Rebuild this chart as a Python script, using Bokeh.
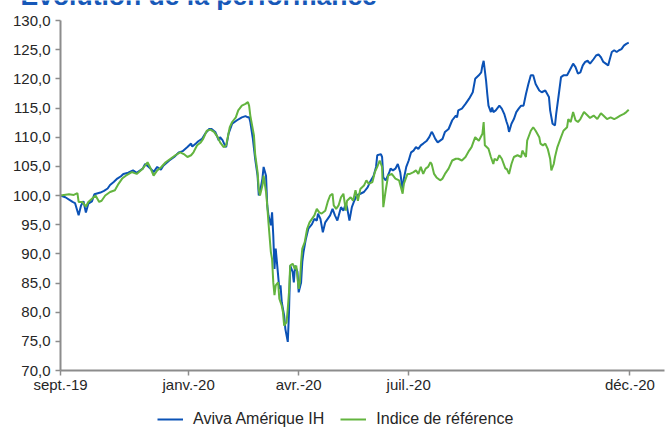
from bokeh.plotting import figure
from bokeh.models import Range1d, FixedTicker, Legend, LegendItem, Label
from bokeh.embed import file_html
from bokeh.resources import INLINE
from datetime import date

# ---- data ----
start_date = "2019-09-17"

aviva_days = [0, 4, 10, 12, 15, 17, 19, 21, 23, 26, 28, 33, 36, 39, 41, 44, 47, 50, 52, 56,
              60, 63, 68, 70, 73, 76, 77, 80, 83, 85, 90, 94, 98, 101, 105, 108, 109, 112, 114, 117,
              120, 123, 125, 128, 131, 132, 134, 136, 137, 139, 142, 146, 150, 153, 155, 156, 157, 159, 161, 163,
              164, 165, 167, 168, 170, 171, 172, 174, 175, 176, 177, 178, 180, 181, 182, 183, 185, 186, 188, 189,
              190, 192, 193, 194, 196, 197, 199, 200, 201, 203, 205, 208, 210, 212, 213, 215, 217, 219, 221, 223,
              225, 227, 229, 232, 234, 236, 237, 239, 241, 243, 245, 248, 251, 254, 256, 259, 261, 262, 265, 266,
              267, 269, 272, 273, 275, 277, 279, 281, 283, 284, 286, 288, 290, 292, 294, 296, 298, 300, 303, 305,
              307, 308, 310, 312, 314, 316, 318, 321, 324, 327, 328, 329, 332, 335, 338, 341, 343, 346, 348, 349,
              350, 352, 353, 354, 356, 357, 358, 360, 363, 365, 367, 369, 370, 371, 373, 375, 377, 379, 381, 383,
              385, 387, 389, 391, 393, 396, 398, 401, 404, 405, 407, 409, 410, 412, 414, 416, 419, 421, 424, 426,
              428, 430, 432, 434, 436, 438, 441, 443, 445, 447, 449, 451, 453, 454, 456, 458, 460, 462, 464, 466,
              468, 470]
aviva_vals = [100.0, 99.7, 98.9, 98.7, 96.6, 98.3, 99.0, 97.1, 98.6, 99.0, 100.2, 100.5, 100.8, 101.2, 101.8, 102.3, 102.9, 103.3, 103.7, 103.9,
              104.3, 103.9, 104.6, 105.4, 104.9, 104.3, 104.0, 104.9, 104.4, 105.1, 106.0, 106.6, 107.4, 107.6, 108.3, 108.9, 108.4, 108.9, 109.3, 109.7,
              110.7, 111.4, 111.4, 110.9, 109.4, 110.0, 109.5, 108.6, 108.3, 110.6, 112.3, 112.9, 113.4, 113.6, 113.4, 113.4, 112.6, 109.9, 106.3, 103.4,
              100.0, 100.6, 102.9, 104.9, 103.4, 98.3, 96.6, 94.9, 97.1, 93.1, 87.4, 90.9, 86.3, 84.0, 84.6, 81.7, 79.4, 77.1, 74.9, 80.0,
              88.0, 86.9, 85.1, 88.0, 86.9, 83.4, 85.1, 88.6, 90.3, 92.6, 94.3, 95.1, 96.0, 95.7, 96.9, 96.0, 93.7, 95.4, 96.0, 96.6,
              97.7, 96.6, 95.7, 98.0, 97.4, 98.6, 98.0, 95.7, 98.0, 99.1, 100.0, 100.3, 100.6, 101.4, 102.3, 103.4, 104.9, 106.9, 107.1, 106.6,
              103.1, 102.6, 104.0, 104.6, 104.3, 104.6, 105.4, 104.0, 100.9, 102.9, 104.9, 106.0, 107.4, 107.7, 108.3, 108.0, 108.6, 108.9, 109.4, 110.0,
              110.9, 110.6, 109.7, 109.1, 109.4, 109.7, 110.9, 111.4, 112.9, 113.7, 113.4, 114.6, 114.9, 115.7, 116.6, 117.7, 120.0, 120.6, 121.1, 122.3,
              123.1, 119.7, 117.4, 115.4, 114.3, 115.1, 114.3, 114.6, 115.4, 114.9, 114.0, 112.6, 112.0, 110.9, 112.3, 113.1, 114.3, 114.9, 115.4, 115.4,
              117.4, 119.1, 120.6, 120.6, 119.1, 118.0, 117.7, 118.0, 116.9, 114.6, 112.3, 112.0, 114.0, 117.1, 120.3, 120.6, 120.6, 121.4, 122.6, 122.0,
              120.9, 121.1, 122.3, 122.9, 123.1, 122.6, 123.4, 124.0, 124.2, 123.7, 122.9, 122.6, 122.3, 123.1, 124.6, 124.9, 124.6, 124.9, 125.1, 125.7,
              126.0, 126.2]

indice_days = [0, 7, 11, 14, 15, 18, 21, 23, 29, 32, 34, 37, 41, 45, 48, 51, 54, 59, 63, 68,
               72, 74, 77, 80, 83, 87, 91, 95, 99, 102, 105, 108, 110, 113, 116, 118, 121, 124, 127, 130,
               132, 135, 137, 140, 142, 145, 147, 150, 153, 155, 156, 157, 160, 161, 163, 164, 165, 167, 168, 170,
               171, 172, 174, 175, 176, 177, 178, 180, 181, 183, 184, 185, 187, 188, 189, 190, 192, 194, 195, 197,
               198, 199, 200, 202, 204, 206, 208, 210, 212, 214, 216, 219, 221, 223, 225, 226, 228, 230, 232, 234,
               236, 237, 240, 242, 244, 246, 248, 251, 253, 255, 258, 260, 262, 264, 266, 267, 269, 271, 274, 277,
               280, 283, 284, 287, 289, 292, 294, 296, 298, 300, 302, 304, 306, 307, 309, 311, 314, 316, 318, 321,
               324, 327, 329, 332, 335, 338, 340, 343, 346, 349, 350, 351, 354, 356, 358, 359, 361, 363, 365, 368,
               369, 371, 373, 375, 378, 381, 382, 385, 386, 389, 391, 393, 396, 397, 399, 401, 403, 405, 406, 408,
               409, 411, 414, 416, 419, 420, 422, 424, 426, 428, 430, 433, 436, 438, 441, 444, 447, 449, 452, 455,
               458, 460, 463, 466, 468, 470]
indice_vals = [100.0, 100.2, 100.1, 100.4, 98.9, 98.9, 98.1, 98.9, 100.0, 98.9, 99.1, 100.0, 100.6, 100.9, 102.0, 102.9, 103.4, 104.0, 103.7, 104.6,
               105.7, 104.9, 103.4, 104.3, 104.8, 105.7, 106.3, 106.9, 107.4, 107.1, 106.6, 106.9, 107.4, 108.6, 109.1, 109.7, 111.1, 111.3, 110.9, 110.0,
               109.1, 108.3, 108.6, 111.7, 112.6, 113.4, 114.6, 115.4, 115.7, 116.0, 115.4, 113.7, 110.3, 107.1, 104.0, 101.1, 100.0, 101.7, 103.4, 100.6,
               98.3, 95.4, 90.3, 89.1, 85.1, 82.9, 84.6, 85.1, 82.3, 81.1, 80.0, 77.7, 78.3, 80.6, 83.4, 88.0, 88.3, 87.4, 88.0, 84.0,
               85.1, 88.6, 90.9, 92.0, 94.3, 95.4, 96.0, 96.6, 97.7, 97.1, 96.9, 97.4, 98.9, 100.0, 100.3, 98.3, 97.7, 98.3, 99.7, 100.3,
               97.4, 99.1, 99.7, 99.1, 100.9, 99.1, 101.1, 101.7, 102.6, 102.0, 102.3, 104.0, 104.9, 106.0, 104.9, 98.0, 100.9, 103.4, 103.7, 102.9,
               102.6, 100.3, 102.0, 103.7, 103.7, 104.0, 104.3, 103.7, 104.9, 103.7, 104.6, 104.9, 105.7, 105.4, 103.7, 103.1, 102.6, 102.9, 103.7, 104.6,
               106.0, 106.3, 106.3, 106.0, 106.6, 107.7, 108.3, 110.0, 109.4, 110.6, 112.6, 108.6, 108.0, 106.6, 105.4, 106.3, 106.0, 106.9, 106.3, 104.6,
               104.6, 103.7, 105.4, 106.6, 106.9, 106.6, 107.7, 106.6, 109.4, 111.1, 111.7, 111.1, 110.0, 108.9, 108.6, 108.9, 108.0, 106.3, 104.3, 105.4,
               106.6, 108.3, 110.0, 111.1, 111.7, 113.1, 112.6, 114.3, 112.9, 112.6, 113.1, 114.3, 113.7, 113.3, 113.7, 113.1, 114.1, 113.7, 113.1, 113.4,
               113.1, 113.3, 113.7, 114.0, 114.3, 114.7]

tick_dates = ["2019-09-17", "2020-01-01", "2020-04-01", "2020-07-01", "2020-12-31"]
tick_labels = ["sept.-19", "janv.-20", "avr.-20", "juil.-20", "déc.-20"]
y_ticks = [70, 75, 80, 85, 90, 95, 100, 105, 110, 115, 120, 125, 130]
series_names = ["Aviva Amérique IH", "Indice de référence"]
title_text = "Évolution de la performance"

# ---- layout constants (pixels) ----
W, H = 667, 428
X0_PX, X_END_PX = 60, 664          # axis line extent
Y_TOP_PX, Y_BOT_PX = 20, 370        # 130 and 70 positions
PX_PER_DAY = 1.209

FONT = "Liberation Sans"
BLUE = "#0B52B6"
GREEN = "#63B43F"
TITLE_BLUE = "#1658B8"
AXIS_COL = "#8C8C8C"
TEXT_COL = "#262626"

d0 = date.fromisoformat(start_date)
tick_pos = [(date.fromisoformat(t) - d0).days for t in tick_dates]

y_min, y_max = y_ticks[0], y_ticks[-1]
ppu = (Y_BOT_PX - Y_TOP_PX) / (y_max - y_min)
y_range = Range1d(y_min - (H - Y_BOT_PX) / ppu, y_max + Y_TOP_PX / ppu)
x_range = Range1d(-X0_PX / PX_PER_DAY, (W - X0_PX) / PX_PER_DAY)

p = figure(width=W, height=H, output_backend="svg", toolbar_location=None,
           x_range=x_range, y_range=y_range,
           min_border=0, min_border_left=0, min_border_right=0,
           min_border_top=0, min_border_bottom=0)
p.outline_line_color = None
p.grid.visible = False
p.background_fill_color = "white"
p.border_fill_color = "white"

r1 = p.line(aviva_days, aviva_vals, line_color=BLUE, line_width=2)
r2 = p.line(indice_days, indice_vals, line_color=GREEN, line_width=2)

for ax in (p.xaxis[0], p.yaxis[0]):
    ax.axis_line_color = AXIS_COL
    ax.axis_line_width = 2
    ax.major_tick_line_color = AXIS_COL
    ax.major_tick_line_width = 1.5
    ax.major_tick_out = 5
    ax.major_tick_in = 0
    ax.minor_tick_line_color = None
    ax.major_label_text_font = FONT
    ax.major_label_text_font_size = "15px"
    ax.major_label_text_color = TEXT_COL

xa = p.xaxis[0]
xa.ticker = FixedTicker(ticks=tick_pos)
xa.major_label_overrides = {t: l for t, l in zip(tick_pos, tick_labels)}
xa.major_label_standoff = 0
xa.fixed_location = y_min
xa.bounds = (0, (X_END_PX - X0_PX) / PX_PER_DAY)

ya = p.yaxis[0]
ya.ticker = FixedTicker(ticks=y_ticks)
ya.major_label_overrides = {v: f"{v},0" for v in y_ticks}
ya.major_label_standoff = 5
ya.fixed_location = 0
ya.bounds = (y_min, y_max)

title = Label(x=(20 - X0_PX) / PX_PER_DAY, y=y_max + 24.5 / ppu,
              text=title_text, text_font=FONT, text_font_style="bold",
              text_font_size="26.5px", text_color=TITLE_BLUE, text_baseline="alphabetic")
p.add_layout(title)

legend = Legend(items=[LegendItem(label=series_names[0], renderers=[r1]),
                       LegendItem(label=series_names[1], renderers=[r2])],
                location=(157, 0), orientation="horizontal",
                border_line_color=None, background_fill_alpha=0,
                label_text_font=FONT, label_text_font_size="16px", label_text_color=TEXT_COL,
                glyph_width=26, glyph_height=16, label_height=16, label_standoff=10,
                spacing=16, padding=0, margin=0)
p.add_layout(legend, "center")

open("out.html", "w").write(file_html(p, INLINE))
